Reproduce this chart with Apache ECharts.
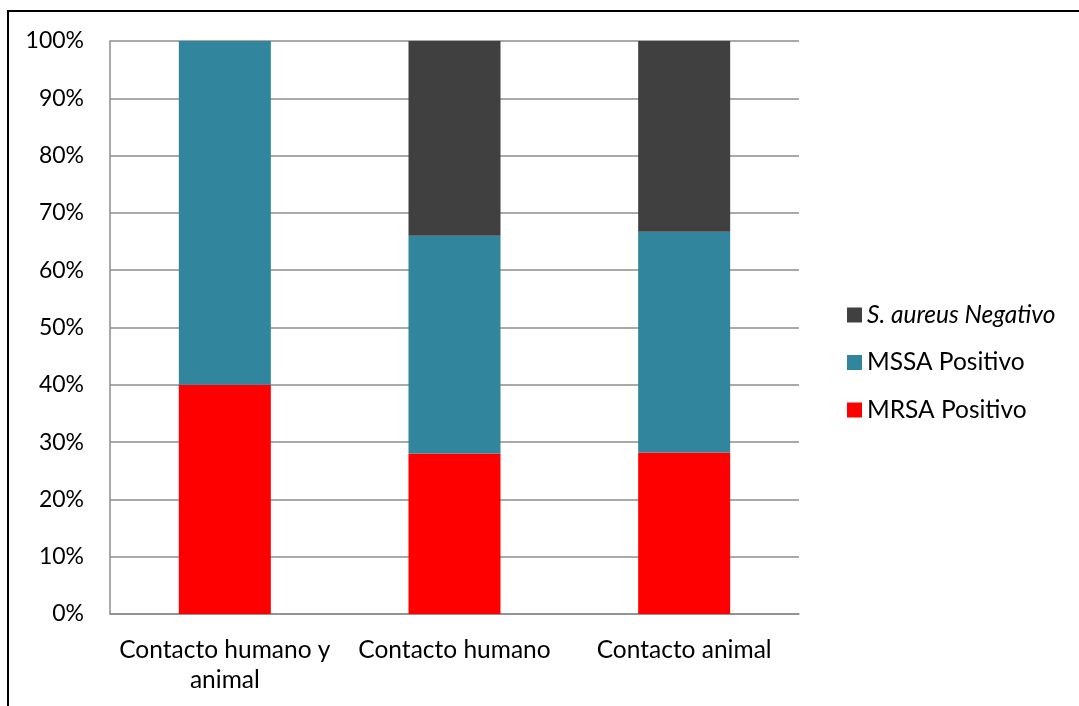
<!DOCTYPE html>
<html>
<head>
<meta charset="utf-8">
<script src="https://cdn.jsdelivr.net/npm/echarts@6/dist/echarts.min.js"></script>
<style>
  html, body { margin: 0; padding: 0; background: #ffffff; }
  #chart { width: 1079px; height: 706px; }
</style>
</head>
<body>
<div id="chart"></div>
<script>
// Percentage of samples per contact group
const categories = ['Contacto humano y\nanimal', 'Contacto humano', 'Contacto animal'];
const mrsaPositivo = [40, 28, 28.2];
const mssaPositivo = [60, 38, 38.5];
const aureusNegativo = [0, 34, 33.3];
const seriesNames = ['MRSA Positivo', 'MSSA Positivo', 'S. aureus Negativo'];
const legendOrder = ['S. aureus Negativo', 'MSSA Positivo', 'MRSA Positivo'];

const FONT = 'Lato';
const FONT_SIZE = 24.5;
const TICK_FONT_SIZE = 23;

const chart = echarts.init(document.getElementById('chart'), null, { renderer: 'canvas' });

const barStyle = (color) => ({
  type: 'bar',
  stack: 'total',
  barWidth: 92,
  itemStyle: { color: color },
  emphasis: { disabled: true }
});

chart.setOption({
  animation: false,
  backgroundColor: '#ffffff',
  textStyle: { fontFamily: FONT },
  graphic: [{
    type: 'rect',
    shape: { x: 8, y: 11, width: 1200, height: 800 },
    style: { fill: 'none', stroke: '#000000', lineWidth: 2 },
    silent: true
  }],
  grid: { left: 110, right: 280, top: 41, bottom: 92, containLabel: false },
  legend: {
    orient: 'vertical',
    left: 842,
    top: 295,
    itemWidth: 15,
    itemHeight: 15,
    itemGap: 17.5,
    icon: 'rect',
    data: legendOrder,
    formatter: (name) => name === 'S. aureus Negativo' ? '{i|' + name + '}' : name,
    textStyle: {
      fontFamily: FONT,
      fontSize: FONT_SIZE,
      lineHeight: 30,
      color: '#000000',
      rich: { i: { fontFamily: FONT, fontSize: FONT_SIZE, lineHeight: 30, fontStyle: 'italic', color: '#000000' } }
    }
  },
  xAxis: {
    type: 'category',
    data: categories,
    axisLine: { lineStyle: { color: '#8c8c8c', width: 1.5 } },
    axisTick: { show: false },
    axisLabel: {
      interval: 0,
      margin: 21,
      color: '#000000',
      fontFamily: FONT,
      fontSize: FONT_SIZE,
      lineHeight: 30
    }
  },
  yAxis: {
    type: 'value',
    min: 0,
    max: 100,
    interval: 10,
    axisLine: { show: true, lineStyle: { color: '#8c8c8c', width: 1.5 } },
    axisTick: { show: false },
    splitLine: { lineStyle: { color: '#8c8c8c', width: 1.5 } },
    axisLabel: {
      formatter: '{value}%',
      margin: 26,
      color: '#000000',
      fontFamily: FONT,
      fontSize: TICK_FONT_SIZE
    }
  },
  series: [
    Object.assign({ name: seriesNames[0], data: mrsaPositivo }, barStyle('#ff0000')),
    Object.assign({ name: seriesNames[1], data: mssaPositivo }, barStyle('#31859c')),
    Object.assign({ name: seriesNames[2], data: aureusNegativo }, barStyle('#404040'))
  ]
});
</script>
</body>
</html>
